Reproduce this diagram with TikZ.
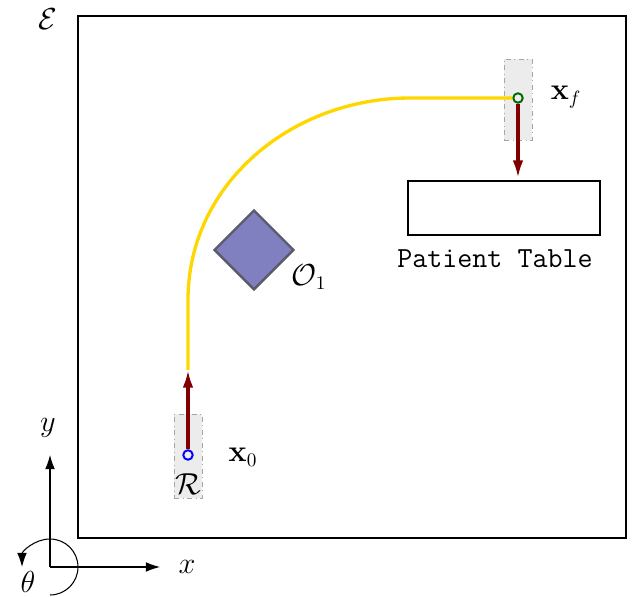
\documentclass[tikz,border=0pt]{standalone}
\definecolor{PathYellow}{rgb}{1.0, 0.8431, 0.0}
\definecolor{PoseRed}{rgb}{0.5020, 0.0, 0.0}
\definecolor{ObstacleBlue}{rgb}{0.5020, 0.5020, 0.7529}
\definecolor{ObstacleEdge}{rgb}{0.3529, 0.3529, 0.4157}
\definecolor{GoalGreen}{rgb}{0.0, 0.4, 0.0}
\usepackage{amsmath}
\usepackage{amssymb}
\usepackage{tikz}
\usetikzlibrary{arrows.meta,positioning,shapes.geometric}

\begin{document}
\begin{tikzpicture}[
        x=0.02cm, y=-0.02cm,
        >=Latex,
        lab/.style={font=\fontsize{16}{19}\selectfont},
        posebox/.style={draw=gray!70, dash dot, fill=gray!15, minimum width=0.56cm, inner sep=0pt},
        posept/.style={circle, line width=1.1pt, fill=gray!15, minimum size=0.19cm, inner sep=0pt},
        posearrow/.style={->, line width=1.8pt, PoseRed, >={Latex[length=10pt,width=6pt]}},
        axis/.style={->, line width=0.6pt, >={Latex[length=8pt,width=5.5pt]}}
    ]
        \useasboundingbox (0,0) rectangle (637,597);
        % environment
        \draw[line width=1.2pt] (78,16) rectangle (626,538);
        \node[lab] (env) at (48,19) {$\mathcal{E}$};

        % start and goal poses
        \node[posebox, minimum height=1.68cm] (startbox) at (188,456) {};
        \node[posept, draw=blue] (start) at (188,455) {};
        \node[lab] (robot) at (188,484) {$\mathcal{R}$};
        \node[lab] (x0) at (243,457) {$\mathbf{x}_0$};
        \node[posebox, minimum height=1.62cm] (goalbox) at (518,99.5) {};
        \node[posept, draw=GoalGreen] (goal) at (518,98) {};
        \node[lab] (xf) at (566,97) {$\mathbf{x}_f$};

        % obstacle and table
        \node[diamond, draw=ObstacleEdge, line width=1.4pt, fill=ObstacleBlue, minimum width=1.6cm, minimum height=1.6cm, inner sep=0pt] (obs) at (254,250) {};
        \node[lab] (obslab) at (309,277) {$\mathcal{O}_1$};
        \node[draw, line width=1.2pt, minimum width=3.84cm, minimum height=1.08cm, inner sep=0pt] (table) at (504,208) {};
        \node[lab, font=\fontsize{16.6}{19}\selectfont\ttfamily] (tablelab) at (495,259) {Patient Table};

        % path
        \coordinate (head0) at (188,370);
        \coordinate (headf) at (518,178);
        \draw[PathYellow, line width=1.9pt] (head0) -- ++(0,-70) to[out=90, in=180] (410,98) -- (goal);
        \draw[posearrow] (start) -- (head0);
        \draw[posearrow] (goal) -- (headf);

        % frame axes
        \coordinate (origin) at (50,567);
        \node[lab] (ylab) at (48,428) {$y$};
        \node[lab] (xlab) at (187,567) {$x$};
        \node[lab] (thlab) at (28,582) {$\theta$};
        \draw[axis] (origin) -- (50,455);
        \draw[axis] (origin) -- (160,567);
        \draw[axis] (50,595) arc[start angle=90, end angle=-180, radius=28];
    \end{tikzpicture}
\end{document}
